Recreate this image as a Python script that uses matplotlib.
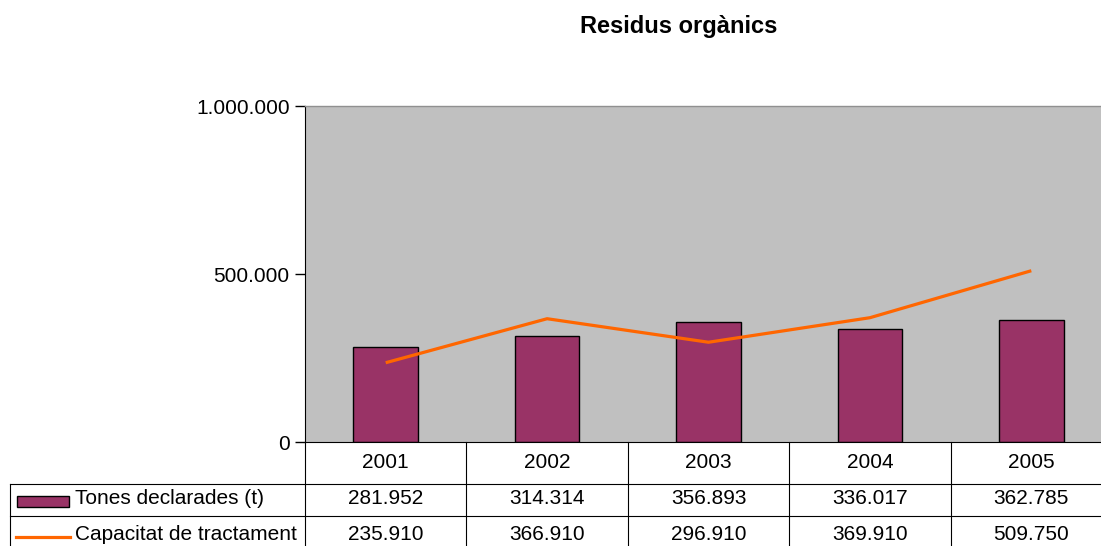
import matplotlib
matplotlib.use("Agg")
import matplotlib.pyplot as plt
from matplotlib.transforms import blended_transform_factory
from matplotlib.lines import Line2D
from matplotlib.patches import Rectangle

plt.rcParams['font.family'] = ['Liberation Sans', 'DejaVu Sans']

title = "Residus orgànics"
years = ["2001", "2002", "2003", "2004", "2005"]
tones = [281952, 314314, 356893, 336017, 362785]
capacitat = [235910, 366910, 296910, 369910, 509750]
series_names = ["Tones declarades (t)", "Capacitat de tractament"]
yticks = [0, 500000, 1000000]

bar_color = "#993366"
line_color = "#FF6600"
bg_color = "#C0C0C0"

W, H = 1101, 546
fig = plt.figure(figsize=(W / 100, H / 100), dpi=100)

def fx(px):
    return px / W

def fy(py):
    return 1 - py / H

left_px, right_px, top_px, bot_px = 305, 1112, 106, 442
ax = fig.add_axes([fx(left_px), fy(bot_px), fx(right_px - left_px), (bot_px - top_px) / H])
ax.set_facecolor(bg_color)

x = list(range(len(years)))
ax.bar(x, tones, width=0.4, color=bar_color, edgecolor="black", linewidth=1.0, zorder=2)
ax.plot(x, capacitat, color=line_color, linewidth=2.3, zorder=3, solid_capstyle="butt")

fs = 15
ax.set_xlim(-0.5, len(years) - 0.5)
ax.set_ylim(0, 1000000)
ax.set_yticks(yticks)
ax.set_yticklabels([f"{v:,}".replace(",", ".") for v in yticks], fontsize=fs)
ax.tick_params(axis="y", direction="out", length=7, width=1, pad=4, color="black")
ax.set_xticks([])
for s in ["top", "right"]:
    ax.spines[s].set_color("#909090")
    ax.spines[s].set_linewidth(1)
ax.spines["left"].set_color("black")
ax.spines["bottom"].set_color("black")

fig.text(fx(679), fy(26), title, ha="center", va="center", fontsize=17, fontweight="bold")

# Data table
ah = bot_px - top_px
def ay(py):
    return (bot_px - py) / ah

trans = blended_transform_factory(ax.transData, ax.transAxes)
tax = ax.transAxes
aw = right_px - left_px
def axx(px):
    return (px - left_px) / aw

row_y = [442, 484, 516, 548]
lc = "black"
lw = 0.8
for py in row_y[1:3]:
    ax.add_line(Line2D([axx(10), 1.0], [ay(py), ay(py)], transform=tax, color=lc, lw=lw, clip_on=False))
ax.add_line(Line2D([axx(10), axx(10)], [ay(484), ay(548)], transform=tax, color=lc, lw=lw, clip_on=False))
for i in range(len(years) + 1):
    xb = i - 0.5
    ax.add_line(Line2D([xb, xb], [ay(442), ay(548)], transform=trans, color=lc, lw=lw, clip_on=False))

for i, yr in enumerate(years):
    ax.text(i, ay(463), yr, transform=trans, ha="center", va="center", fontsize=fs, clip_on=False)
    ax.text(i, ay(498), f"{tones[i]:,}".replace(",", "."), transform=trans, ha="center", va="center", fontsize=fs, clip_on=False)
    ax.text(i, ay(534), f"{capacitat[i]:,}".replace(",", "."), transform=trans, ha="center", va="center", fontsize=fs, clip_on=False)

ax.add_patch(Rectangle((axx(17), ay(507)), axx(69) - axx(17), ay(496) - ay(507), transform=tax,
                       facecolor=bar_color, edgecolor="black", lw=1, clip_on=False))
ax.add_line(Line2D([axx(16), axx(70)], [ay(537), ay(537)], transform=tax, color=line_color, lw=2.3, clip_on=False))
ax.text(axx(75), ay(498), series_names[0], transform=tax, ha="left", va="center", fontsize=fs, clip_on=False)
ax.text(axx(75), ay(534), series_names[1], transform=tax, ha="left", va="center", fontsize=fs, clip_on=False)

fig.savefig("out.png", dpi=100)
